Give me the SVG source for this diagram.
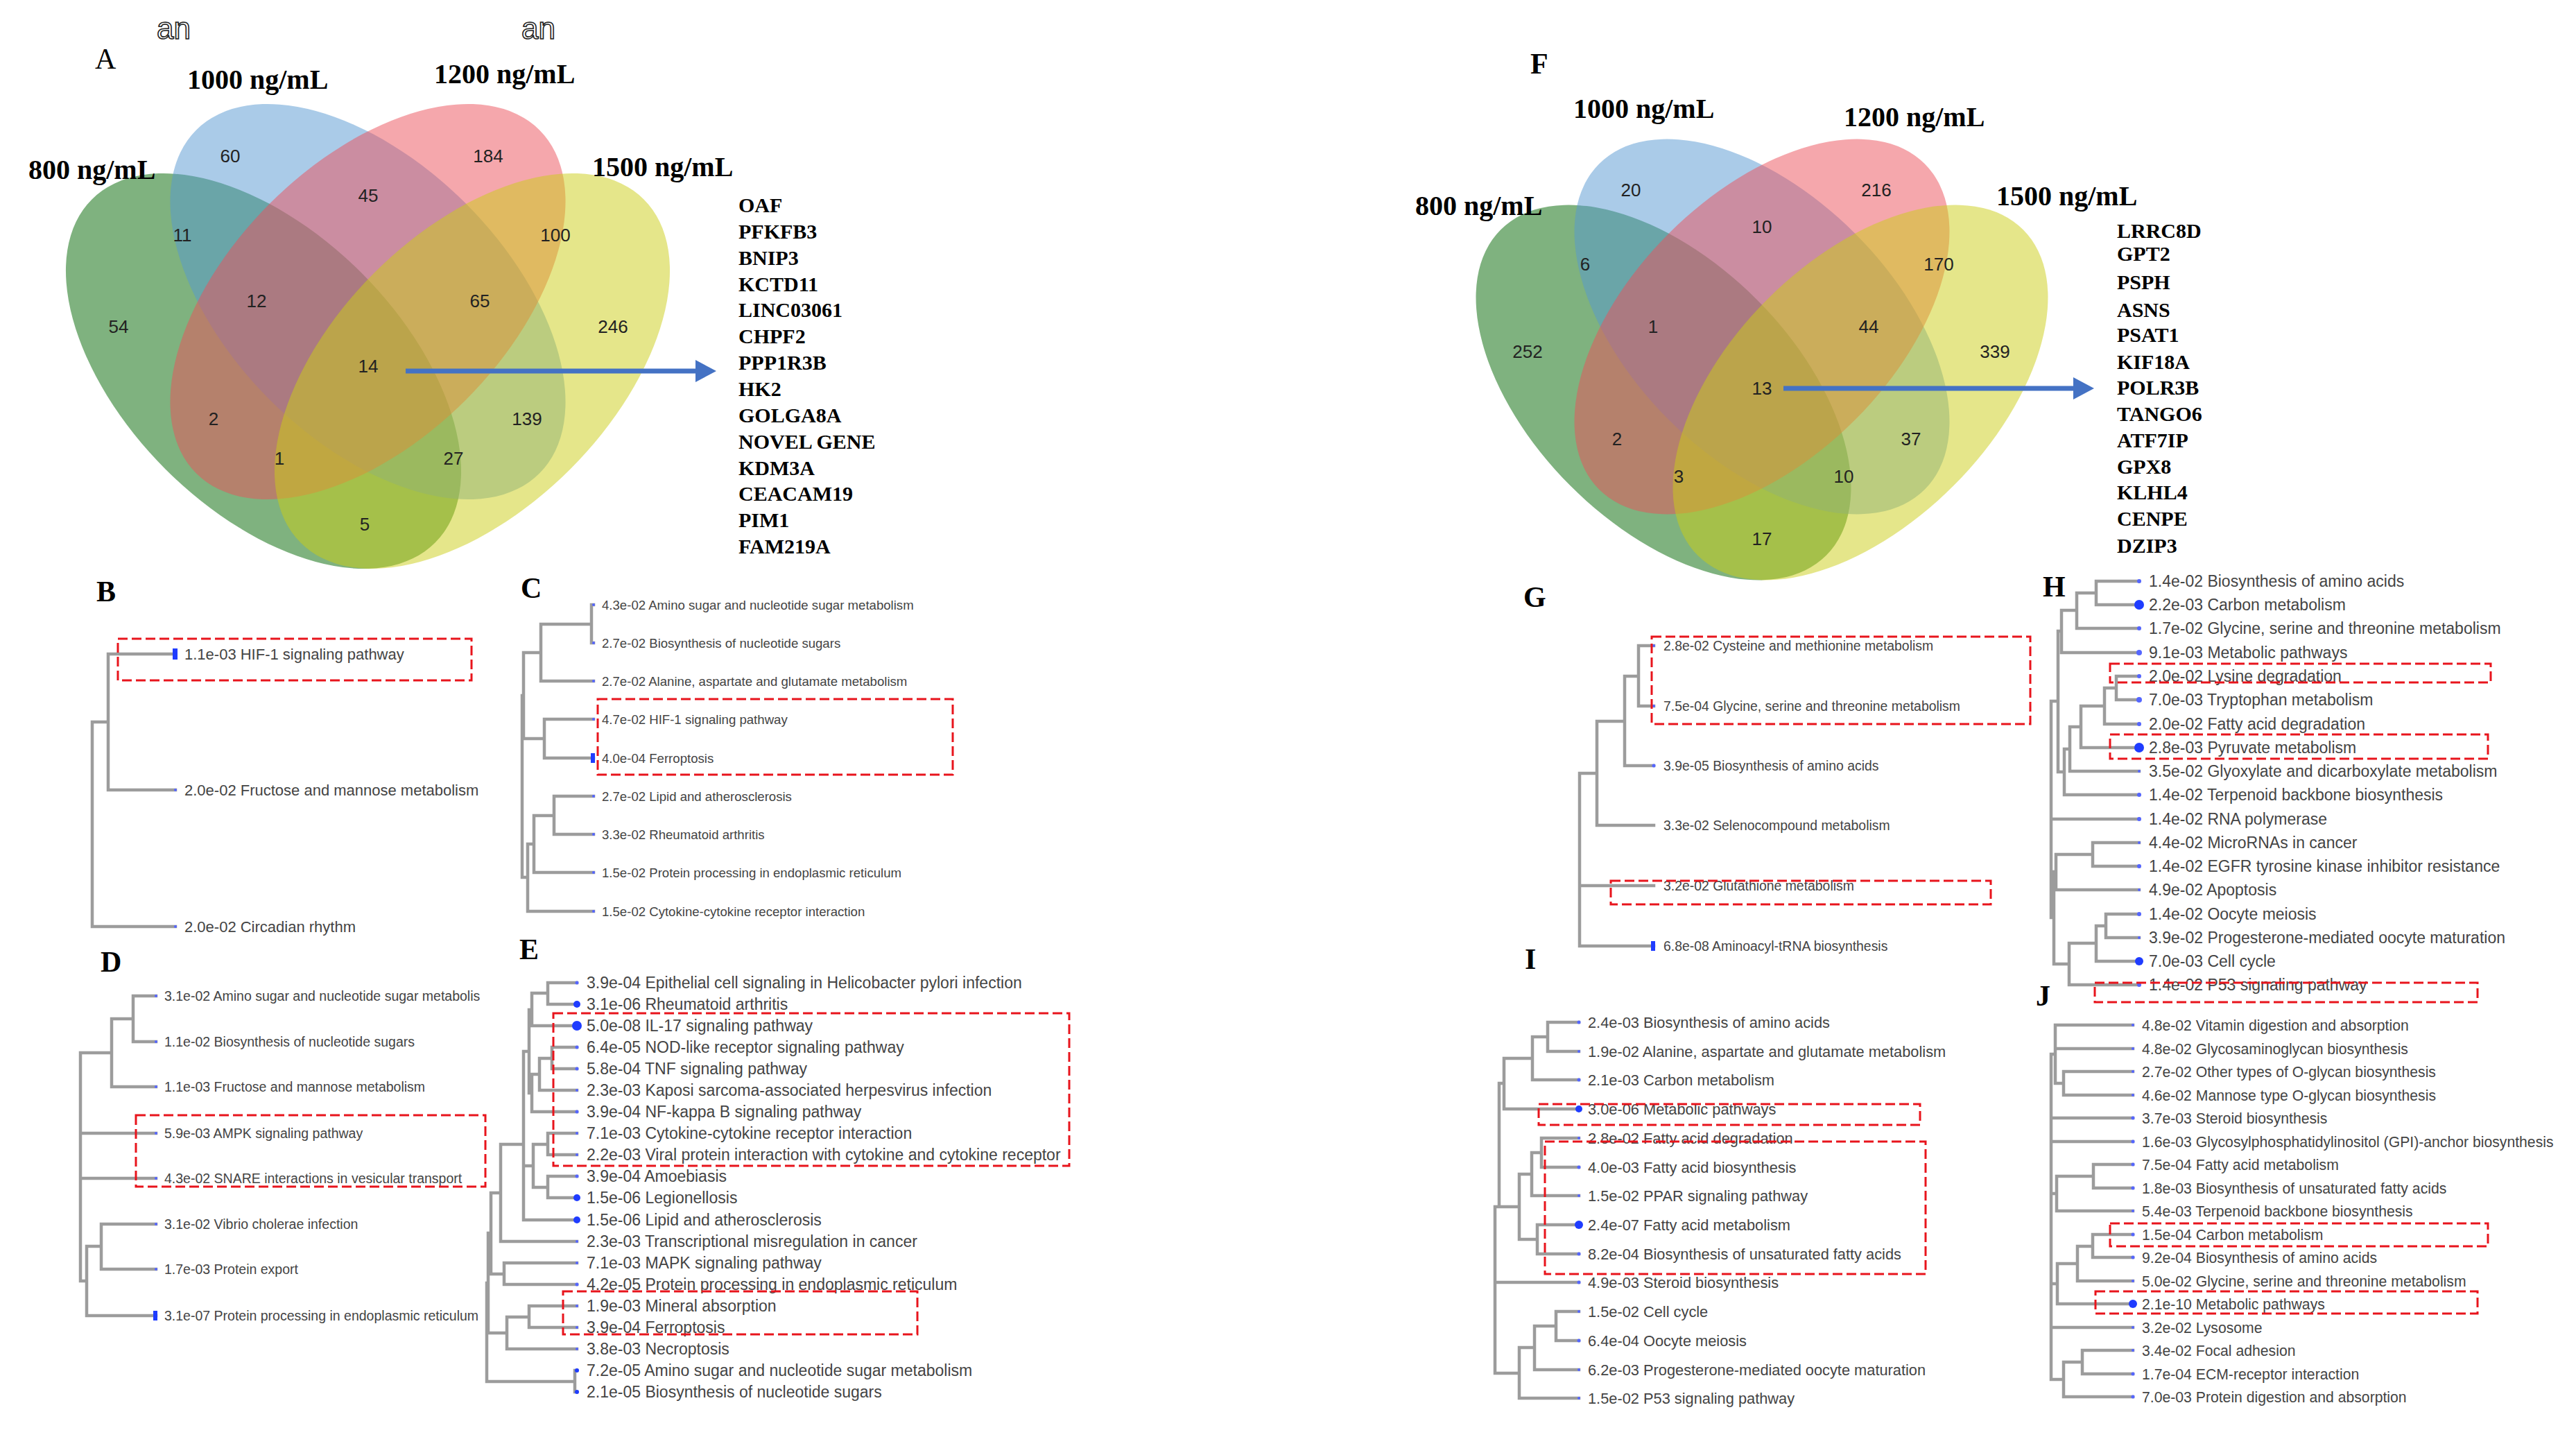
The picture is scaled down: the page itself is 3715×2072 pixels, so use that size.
<svg xmlns="http://www.w3.org/2000/svg" width="3715" height="2072" viewBox="0 0 3715 2072">
<style>
.vl{font-family:"Liberation Serif",serif;font-weight:bold;font-size:40px;fill:#000}
.num{font-family:"Liberation Sans",Arial,sans-serif;font-size:26px;fill:#222;text-anchor:middle}
.gene{font-family:"Liberation Serif",serif;font-weight:bold;font-size:30px;fill:#000}
.pl{font-family:"Liberation Serif",serif;font-weight:bold;font-size:42px;fill:#000}
.tr{fill:none;stroke:#9c9c9c;stroke-width:4.5;stroke-linecap:square}
.t{font-family:"Liberation Sans",Arial,sans-serif;fill:#444}
.box{fill:none;stroke:#e8141c;stroke-width:3;stroke-dasharray:14 6}
.dot{fill:#1f3cff}
.tick{fill:#5566ff}
.g{fill:#006500;fill-opacity:.5}
.b{fill:#5597d1;fill-opacity:.5}
.p{fill:#eb4f59;fill-opacity:.5}
.y{fill:#cbcd15;fill-opacity:.5}
.odd{font-family:"Liberation Sans",sans-serif;font-size:44px;fill:#fff;stroke:#222;stroke-width:1.6}
</style>
<rect width="3715" height="2072" fill="#fff"/>

<!-- Venn A -->
<g id="venn-A">
<text class="odd" x="226" y="56">an</text>
<text class="odd" x="752" y="56">an</text>
<text x="137" y="99" style="font-family:'Liberation Serif',serif;font-size:42px">A</text>
<g id="A-800"><ellipse class="g" cx="380" cy="535" rx="350" ry="200" transform="rotate(45 380 535)"/></g>
<g id="A-1000"><ellipse class="b" cx="530.5" cy="435" rx="350" ry="200" transform="rotate(45 530.5 435)"/></g>
<g id="A-1200"><ellipse class="p" cx="530.5" cy="435" rx="350" ry="200" transform="rotate(-45 530.5 435)"/></g>
<g id="A-1500"><ellipse class="y" cx="681" cy="535" rx="350" ry="200" transform="rotate(-45 681 535)"/></g>
<text class="vl" x="270" y="128">1000 ng/mL</text>
<text class="vl" x="626" y="120">1200 ng/mL</text>
<text class="vl" x="41" y="258">800 ng/mL</text>
<text class="vl" x="854" y="254">1500 ng/mL</text>
<text class="num" x="332" y="234">60</text>
<text class="num" x="704" y="234">184</text>
<text class="num" x="531" y="291">45</text>
<text class="num" x="263" y="348">11</text>
<text class="num" x="801" y="348">100</text>
<text class="num" x="370" y="443">12</text>
<text class="num" x="692" y="443">65</text>
<text class="num" x="171" y="480">54</text>
<text class="num" x="884" y="480">246</text>
<text class="num" x="531" y="537">14</text>
<text class="num" x="308" y="613">2</text>
<text class="num" x="760" y="613">139</text>
<text class="num" x="403" y="670">1</text>
<text class="num" x="654" y="670">27</text>
<text class="num" x="526" y="765">5</text>
</g>
<g id="genes-A">
<text class="gene" x="1065" y="306">OAF</text>
<text class="gene" x="1065" y="344">PFKFB3</text>
<text class="gene" x="1065" y="382">BNIP3</text>
<text class="gene" x="1065" y="420">KCTD11</text>
<text class="gene" x="1065" y="457">LINC03061</text>
<text class="gene" x="1065" y="495">CHPF2</text>
<text class="gene" x="1065" y="533">PPP1R3B</text>
<text class="gene" x="1065" y="571">HK2</text>
<text class="gene" x="1065" y="609">GOLGA8A</text>
<text class="gene" x="1065" y="647">NOVEL GENE</text>
<text class="gene" x="1065" y="685">KDM3A</text>
<text class="gene" x="1065" y="722">CEACAM19</text>
<text class="gene" x="1065" y="760">PIM1</text>
<text class="gene" x="1065" y="798">FAM219A</text>
</g>

<!-- Venn F -->
<g id="venn-F">
<text class="pl" x="2207" y="106">F</text>
<g id="F-800"><ellipse class="g" cx="2399" cy="566" rx="332" ry="190" transform="rotate(45 2399 566)"/></g>
<g id="F-1000"><ellipse class="b" cx="2541" cy="471" rx="332" ry="190" transform="rotate(45 2541 471)"/></g>
<g id="F-1200"><ellipse class="p" cx="2541" cy="471" rx="332" ry="190" transform="rotate(-45 2541 471)"/></g>
<g id="F-1500"><ellipse class="y" cx="2683" cy="566" rx="332" ry="190" transform="rotate(-45 2683 566)"/></g>
<text class="vl" x="2269" y="170">1000 ng/mL</text>
<text class="vl" x="2659" y="182">1200 ng/mL</text>
<text class="vl" x="2041" y="310">800 ng/mL</text>
<text class="vl" x="2879" y="296">1500 ng/mL</text>
<text class="num" x="2352" y="283">20</text>
<text class="num" x="2706" y="283">216</text>
<text class="num" x="2541" y="336">10</text>
<text class="num" x="2286" y="390">6</text>
<text class="num" x="2796" y="390">170</text>
<text class="num" x="2384" y="480">1</text>
<text class="num" x="2695" y="480">44</text>
<text class="num" x="2203" y="516">252</text>
<text class="num" x="2877" y="516">339</text>
<text class="num" x="2541" y="569">13</text>
<text class="num" x="2332" y="642">2</text>
<text class="num" x="2756" y="642">37</text>
<text class="num" x="2421" y="696">3</text>
<text class="num" x="2659" y="696">10</text>
<text class="num" x="2541" y="786">17</text>
</g>
<g id="genes-F">
<text class="gene" x="3053" y="343">LRRC8D</text>
<text class="gene" x="3053" y="376">GPT2</text>
<text class="gene" x="3053" y="417">PSPH</text>
<text class="gene" x="3053" y="457">ASNS</text>
<text class="gene" x="3053" y="493">PSAT1</text>
<text class="gene" x="3053" y="532">KIF18A</text>
<text class="gene" x="3053" y="569">POLR3B</text>
<text class="gene" x="3053" y="607">TANGO6</text>
<text class="gene" x="3053" y="645">ATF7IP</text>
<text class="gene" x="3053" y="683">GPX8</text>
<text class="gene" x="3053" y="720">KLHL4</text>
<text class="gene" x="3053" y="758">CENPE</text>
<text class="gene" x="3053" y="797">DZIP3</text>
</g>

<g id="connectors">
<line x1="585" y1="535" x2="1006" y2="535" stroke="#4472c4" stroke-width="7"/>
<polygon points="1003,519 1033,535 1003,551" fill="#4472c4"/>
<line x1="2572" y1="560" x2="2993" y2="560" stroke="#4472c4" stroke-width="7"/>
<polygon points="2990,544 3020,560 2990,576" fill="#4472c4"/>
</g>

<!-- Panel B -->
<g id="panel-B">
<text class="pl" x="139" y="867">B</text>
<path class="tr" d="M156,943V1139M156,943H253M156,1139H253M133,1041V1336M133,1041H156M133,1336H253"/>
<rect class="dot" x="249" y="935" width="7" height="16"/>
<circle class="tick" cx="253" cy="1139" r="2"/><circle class="tick" cx="253" cy="1336" r="2"/>
<g class="t" font-size="22">
<text x="266" y="951">1.1e-03 HIF-1 signaling pathway</text>
<text x="266" y="1147">2.0e-02 Fructose and mannose metabolism</text>
<text x="266" y="1344">2.0e-02 Circadian rhythm</text>
</g>
<rect class="box" x="170" y="921" width="510" height="60"/>
</g>

<!-- Panel C -->
<g id="panel-C">
<text class="pl" x="751" y="862">C</text>
<path class="tr" d="M853,872V927M853,872H856M853,927H856M780,900V982M780,900H853M780,982H856M785,1037V1093M785,1037H856M785,1093H856M755,941V1065M755,941H780M755,1065H785M799,1148V1203M799,1148H856M799,1203H856M770,1176V1258M770,1176H799M770,1258H856M761,1217V1314M761,1217H770M761,1314H856M753,1003V1265M753,1003H755M753,1265H761"/>
<g class="tick"><circle cx="856" cy="872" r="2"/><circle cx="856" cy="927" r="2"/><circle cx="856" cy="982" r="2"/><circle cx="856" cy="1037" r="2"/><circle cx="856" cy="1148" r="2"/><circle cx="856" cy="1203" r="2"/><circle cx="856" cy="1258" r="2"/><circle cx="856" cy="1314" r="2"/></g>
<rect class="dot" x="852" y="1086" width="6" height="14"/>
<g class="t" font-size="18.6">
<text x="868" y="878.5">4.3e-02 Amino sugar and nucleotide sugar metabolism</text>
<text x="868" y="933.5">2.7e-02 Biosynthesis of nucleotide sugars</text>
<text x="868" y="988.5">2.7e-02 Alanine, aspartate and glutamate metabolism</text>
<text x="868" y="1043.5">4.7e-02 HIF-1 signaling pathway</text>
<text x="868" y="1099.5">4.0e-04 Ferroptosis</text>
<text x="868" y="1154.5">2.7e-02 Lipid and atherosclerosis</text>
<text x="868" y="1209.5">3.3e-02 Rheumatoid arthritis</text>
<text x="868" y="1264.5">1.5e-02 Protein processing in endoplasmic reticulum</text>
<text x="868" y="1320.5">1.5e-02 Cytokine-cytokine receptor interaction</text>
</g>
<rect class="box" x="862" y="1008" width="512" height="109"/>
</g>

<!-- Panel D -->
<g id="panel-D">
<text class="pl" x="145" y="1401">D</text>
<path class="tr" d="M192,1436V1502M192,1436H225M192,1502H225M161,1469V1567M161,1469H192M161,1567H225M146,1765V1830M146,1765H225M146,1830H225M125,1797V1897M125,1797H146M125,1897H225M116,1518V1847M116,1518H161M116,1634H225M116,1699H225M116,1847H125"/>
<g class="tick"><circle cx="225" cy="1436" r="2"/><circle cx="225" cy="1502" r="2"/><circle cx="225" cy="1567" r="2"/><circle cx="225" cy="1634" r="2"/><circle cx="225" cy="1699" r="2"/><circle cx="225" cy="1765" r="2"/><circle cx="225" cy="1830" r="2"/></g>
<rect class="dot" x="221" y="1890" width="6" height="14"/>
<g class="t" font-size="19.5">
<text x="237" y="1443">3.1e-02 Amino sugar and nucleotide sugar metabolis</text>
<text x="237" y="1509">1.1e-02 Biosynthesis of nucleotide sugars</text>
<text x="237" y="1574">1.1e-03 Fructose and mannose metabolism</text>
<text x="237" y="1641">5.9e-03 AMPK signaling pathway</text>
<text x="237" y="1706">4.3e-02 SNARE interactions in vesicular transport</text>
<text x="237" y="1772">3.1e-02 Vibrio cholerae infection</text>
<text x="237" y="1837">1.7e-03 Protein export</text>
<text x="237" y="1904">3.1e-07 Protein processing in endoplasmic reticulum</text>
</g>
<rect class="box" x="196" y="1608" width="504" height="103"/>
</g>

<!-- Panel E -->
<g id="panel-E">
<text class="pl" x="749" y="1383">E</text>
<path class="tr" d="M790,1417V1448M790,1417H832M790,1448H832M767,1432V1479M767,1432H790M767,1479H832M796,1510V1541M796,1510H832M796,1541H832M778,1526V1572M778,1526H796M778,1572H832M767,1549V1603M767,1549H778M767,1603H832M763,1456V1576M763,1456H767M763,1576H767M790,1634V1665M790,1634H832M790,1665H832M790,1696V1727M790,1696H832M790,1727H832M769,1650V1712M769,1650H790M769,1712H790M755,1516V1759M755,1516H763M755,1681H769M755,1759H832M722,1650V1790M722,1650H755M722,1790H832M727,1821V1852M727,1821H832M727,1852H832M708,1720V1837M708,1720H722M708,1837H727M763,1883V1914M763,1883H832M763,1914H832M731,1899V1945M731,1899H763M731,1945H832M704,1778V1922M704,1778H708M704,1922H731M829,1976V2007M829,1976H832M829,2007H832M702,1850V1992M702,1850H704M702,1992H829"/>
<g class="tick"><circle cx="832" cy="1417" r="2.5"/><circle cx="832" cy="1510" r="2.5"/><circle cx="832" cy="1541" r="2.5"/><circle cx="832" cy="1572" r="2"/><circle cx="832" cy="1603" r="2.5"/><circle cx="832" cy="1634" r="2"/><circle cx="832" cy="1665" r="2"/><circle cx="832" cy="1696" r="2.5"/><circle cx="832" cy="1790" r="2"/><circle cx="832" cy="1821" r="2"/><circle cx="832" cy="1852" r="2.5"/><circle cx="832" cy="1883" r="2"/><circle cx="832" cy="1914" r="2"/><circle cx="832" cy="1945" r="2"/></g>
<g class="dot"><circle cx="832" cy="1448" r="5"/><circle cx="832" cy="1479" r="7"/><circle cx="832" cy="1727" r="5"/><circle cx="832" cy="1759" r="5"/><circle cx="832" cy="1976" r="3"/><circle cx="832" cy="2007" r="3"/></g>
<g class="t" font-size="23">
<text x="846" y="1425">3.9e-04 Epithelial cell signaling in Helicobacter pylori infection</text>
<text x="846" y="1456">3.1e-06 Rheumatoid arthritis</text>
<text x="846" y="1487">5.0e-08 IL-17 signaling pathway</text>
<text x="846" y="1518">6.4e-05 NOD-like receptor signaling pathway</text>
<text x="846" y="1549">5.8e-04 TNF signaling pathway</text>
<text x="846" y="1580">2.3e-03 Kaposi sarcoma-associated herpesvirus infection</text>
<text x="846" y="1611">3.9e-04 NF-kappa B signaling pathway</text>
<text x="846" y="1642">7.1e-03 Cytokine-cytokine receptor interaction</text>
<text x="846" y="1673">2.2e-03 Viral protein interaction with cytokine and cytokine receptor</text>
<text x="846" y="1704">3.9e-04 Amoebiasis</text>
<text x="846" y="1735">1.5e-06 Legionellosis</text>
<text x="846" y="1767">1.5e-06 Lipid and atherosclerosis</text>
<text x="846" y="1798">2.3e-03 Transcriptional misregulation in cancer</text>
<text x="846" y="1829">7.1e-03 MAPK signaling pathway</text>
<text x="846" y="1860">4.2e-05 Protein processing in endoplasmic reticulum</text>
<text x="846" y="1891">1.9e-03 Mineral absorption</text>
<text x="846" y="1922">3.9e-04 Ferroptosis</text>
<text x="846" y="1953">3.8e-03 Necroptosis</text>
<text x="846" y="1984">7.2e-05 Amino sugar and nucleotide sugar metabolism</text>
<text x="846" y="2015">2.1e-05 Biosynthesis of nucleotide sugars</text>
</g>
<rect class="box" x="798" y="1461" width="744" height="220"/>
<rect class="box" x="812" y="1862" width="511" height="62"/>
</g>

<!-- Panel G -->
<g id="panel-G">
<text class="pl" x="2197" y="875">G</text>
<path class="tr" d="M2363,931V1018M2363,931H2385M2363,1018H2385M2343,975V1104M2343,975H2363M2343,1104H2385M2303,1040V1190M2303,1040H2343M2303,1190H2385M2278,1115V1364M2278,1115H2303M2278,1277H2385M2278,1364H2385"/>
<g class="tick"><circle cx="2385" cy="931" r="2"/><circle cx="2385" cy="1018" r="2"/><circle cx="2385" cy="1104" r="2.5"/></g>
<rect class="dot" x="2381" y="1357" width="6" height="14"/>
<g class="t" font-size="19.4">
<text x="2399" y="938">2.8e-02 Cysteine and methionine metabolism</text>
<text x="2399" y="1025">7.5e-04 Glycine, serine and threonine metabolism</text>
<text x="2399" y="1111">3.9e-05 Biosynthesis of amino acids</text>
<text x="2399" y="1197">3.3e-02 Selenocompound metabolism</text>
<text x="2399" y="1284">3.2e-02 Glutathione metabolism</text>
<text x="2399" y="1371">6.8e-08 Aminoacyl-tRNA biosynthesis</text>
</g>
<rect class="box" x="2382" y="918" width="546" height="126"/>
<rect class="box" x="2323" y="1270" width="548" height="34"/>
</g>

<!-- Panel H -->
<g id="panel-H">
<text class="pl" x="2946" y="860">H</text>
<path class="tr" d="M3023,838V872M3023,838H3085M3023,872H3085M2995,855V906M2995,855H3023M2995,906H3085M2973,880V941M2973,880H2995M2973,941H3085M3052,975V1009M3052,975H3085M3052,1009H3085M3035,992V1044M3035,992H3052M3035,1044H3085M3001,1018V1078M3001,1018H3035M3001,1078H3085M2985,1048V1112M2985,1048H3001M2985,1112H3085M2977,1080V1146M2977,1080H2985M2977,1146H3085M2968,910V1113M2968,910H2973M2968,1113H2977M3018,1215V1249M3018,1215H3085M3018,1249H3085M2965,1232V1283M2965,1232H3018M2965,1283H3085M3037,1318V1352M3037,1318H3085M3037,1352H3085M3023,1335V1386M3023,1335H3037M3023,1386H3085M2984,1360V1420M2984,1360H3023M2984,1420H3085M2962,1257V1390M2962,1257H2965M2962,1390H2984M2958,1011V1323M2958,1011H2968M2958,1181H3085M2958,1323H2962"/>
<g class="tick"><circle cx="3085" cy="838" r="3"/><circle cx="3085" cy="906" r="3"/><circle cx="3085" cy="941" r="4"/><circle cx="3085" cy="975" r="3"/><circle cx="3085" cy="1009" r="4"/><circle cx="3085" cy="1044" r="3"/><circle cx="3085" cy="1112" r="2"/><circle cx="3085" cy="1146" r="3"/><circle cx="3085" cy="1181" r="3"/><circle cx="3085" cy="1215" r="2"/><circle cx="3085" cy="1249" r="3"/><circle cx="3085" cy="1283" r="2"/><circle cx="3085" cy="1318" r="3"/><circle cx="3085" cy="1352" r="2"/><circle cx="3085" cy="1420" r="3"/></g>
<g class="dot"><circle cx="3085" cy="872" r="7"/><circle cx="3085" cy="1078" r="7"/><circle cx="3085" cy="1386" r="6"/></g>
<g class="t" font-size="23">
<text x="3099" y="846">1.4e-02 Biosynthesis of amino acids</text>
<text x="3099" y="880">2.2e-03 Carbon metabolism</text>
<text x="3099" y="914">1.7e-02 Glycine, serine and threonine metabolism</text>
<text x="3099" y="949">9.1e-03 Metabolic pathways</text>
<text x="3099" y="983">2.0e-02 Lysine degradation</text>
<text x="3099" y="1017">7.0e-03 Tryptophan metabolism</text>
<text x="3099" y="1052">2.0e-02 Fatty acid degradation</text>
<text x="3099" y="1086">2.8e-03 Pyruvate metabolism</text>
<text x="3099" y="1120">3.5e-02 Glyoxylate and dicarboxylate metabolism</text>
<text x="3099" y="1154">1.4e-02 Terpenoid backbone biosynthesis</text>
<text x="3099" y="1189">1.4e-02 RNA polymerase</text>
<text x="3099" y="1223">4.4e-02 MicroRNAs in cancer</text>
<text x="3099" y="1257">1.4e-02 EGFR tyrosine kinase inhibitor resistance</text>
<text x="3099" y="1291">4.9e-02 Apoptosis</text>
<text x="3099" y="1326">1.4e-02 Oocyte meiosis</text>
<text x="3099" y="1360">3.9e-02 Progesterone-mediated oocyte maturation</text>
<text x="3099" y="1394">7.0e-03 Cell cycle</text>
<text x="3099" y="1428">1.4e-02 P53 signaling pathway</text>
</g>
<rect class="box" x="3043" y="957" width="549" height="27"/>
<rect class="box" x="3043" y="1059" width="545" height="35"/>
<rect class="box" x="3021" y="1417" width="552" height="28"/>
</g>

<!-- Panel I -->
<g id="panel-I">
<text class="pl" x="2199" y="1397">I</text>
<path class="tr" d="M2232,1474V1516M2232,1474H2277M2232,1516H2277M2210,1495V1557M2210,1495H2232M2210,1557H2277M2169,1526V1599M2169,1526H2210M2169,1599H2277M2223,1641V1683M2223,1641H2277M2223,1683H2277M2209,1662V1724M2209,1662H2223M2209,1724H2277M2217,1766V1808M2217,1766H2277M2217,1808H2277M2191,1693V1787M2191,1693H2209M2191,1787H2217M2162,1562V1740M2162,1562H2169M2156,1740V1980M2156,1740H2191M2156,1849H2277M2156,1980H2191M2244,1891V1933M2244,1891H2277M2244,1933H2277M2213,1912V1975M2213,1912H2244M2213,1975H2277M2191,1943V2016M2191,1943H2213M2191,2016H2277"/>
<g class="tick"><circle cx="2277" cy="1474" r="2.5"/><circle cx="2277" cy="1516" r="2"/><circle cx="2277" cy="1557" r="2.5"/><circle cx="2277" cy="1641" r="2"/><circle cx="2277" cy="1683" r="2.5"/><circle cx="2277" cy="1724" r="2"/><circle cx="2277" cy="1808" r="2.5"/><circle cx="2277" cy="1849" r="2.5"/><circle cx="2277" cy="1891" r="2"/><circle cx="2277" cy="1933" r="2.5"/><circle cx="2277" cy="1975" r="2"/><circle cx="2277" cy="2016" r="2"/></g>
<g class="dot"><circle cx="2277" cy="1599" r="5"/><circle cx="2277" cy="1766" r="6"/></g>
<g class="t" font-size="21.8">
<text x="2290" y="1481.5">2.4e-03 Biosynthesis of amino acids</text>
<text x="2290" y="1523.5">1.9e-02 Alanine, aspartate and glutamate metabolism</text>
<text x="2290" y="1564.5">2.1e-03 Carbon metabolism</text>
<text x="2290" y="1606.5">3.0e-06 Metabolic pathways</text>
<text x="2290" y="1648.5">2.8e-02 Fatty acid degradation</text>
<text x="2290" y="1690.5">4.0e-03 Fatty acid biosynthesis</text>
<text x="2290" y="1731.5">1.5e-02 PPAR signaling pathway</text>
<text x="2290" y="1773.5">2.4e-07 Fatty acid metabolism</text>
<text x="2290" y="1815.5">8.2e-04 Biosynthesis of unsaturated fatty acids</text>
<text x="2290" y="1856.5">4.9e-03 Steroid biosynthesis</text>
<text x="2290" y="1898.5">1.5e-02 Cell cycle</text>
<text x="2290" y="1940.5">6.4e-04 Oocyte meiosis</text>
<text x="2290" y="1982.5">6.2e-03 Progesterone-mediated oocyte maturation</text>
<text x="2290" y="2023.5">1.5e-02 P53 signaling pathway</text>
</g>
<rect class="box" x="2219" y="1592" width="550" height="30"/>
<rect class="box" x="2228" y="1646" width="549" height="191"/>
</g>

<!-- Panel J -->
<g id="panel-J">
<text class="pl" x="2936" y="1450">J</text>
<path class="tr" d="M2976,1545V1579M2976,1545H3076M2976,1579H3076M2964,1478V1562M2964,1478H3076M2964,1512H3076M2964,1562H2976M3019,1679V1713M3019,1679H3076M3019,1713H3076M2966,1696V1746M2966,1696H3019M2966,1746H3076M3018,1780V1813M3018,1780H3076M3018,1813H3076M2996,1797V1847M2996,1797H3018M2996,1847H3076M2967,1822V1880M2967,1822H2996M2967,1880H3076M3003,1947V1981M3003,1947H3076M3003,1981H3076M2976,1964V2014M2976,1964H3003M2976,2014H3076M2958,1520V1989M2958,1520H2964M2958,1612H3076M2958,1646H3076M2958,1721H2966M2958,1851H2967M2958,1914H3076M2958,1989H2976"/>
<g class="tick"><circle cx="3076" cy="1478" r="2"/><circle cx="3076" cy="1512" r="2"/><circle cx="3076" cy="1545" r="2"/><circle cx="3076" cy="1579" r="2"/><circle cx="3076" cy="1612" r="2.5"/><circle cx="3076" cy="1646" r="2.5"/><circle cx="3076" cy="1679" r="2.5"/><circle cx="3076" cy="1713" r="2.5"/><circle cx="3076" cy="1746" r="2"/><circle cx="3076" cy="1780" r="2.5"/><circle cx="3076" cy="1813" r="2.5"/><circle cx="3076" cy="1847" r="2"/><circle cx="3076" cy="1914" r="2"/><circle cx="3076" cy="1947" r="2"/><circle cx="3076" cy="1981" r="2.5"/><circle cx="3076" cy="2014" r="2.5"/></g>
<circle class="dot" cx="3076" cy="1880" r="6"/>
<g class="t" font-size="21.2">
<text x="3089" y="1485.5">4.8e-02 Vitamin digestion and absorption</text>
<text x="3089" y="1519.5">4.8e-02 Glycosaminoglycan biosynthesis</text>
<text x="3089" y="1552.5">2.7e-02 Other types of O-glycan biosynthesis</text>
<text x="3089" y="1586.5">4.6e-02 Mannose type O-glycan biosynthesis</text>
<text x="3089" y="1619.5">3.7e-03 Steroid biosynthesis</text>
<text x="3089" y="1653.5">1.6e-03 Glycosylphosphatidylinositol (GPI)-anchor biosynthesis</text>
<text x="3089" y="1686.5">7.5e-04 Fatty acid metabolism</text>
<text x="3089" y="1720.5">1.8e-03 Biosynthesis of unsaturated fatty acids</text>
<text x="3089" y="1753.5">5.4e-03 Terpenoid backbone biosynthesis</text>
<text x="3089" y="1787.5">1.5e-04 Carbon metabolism</text>
<text x="3089" y="1820.5">9.2e-04 Biosynthesis of amino acids</text>
<text x="3089" y="1854.5">5.0e-02 Glycine, serine and threonine metabolism</text>
<text x="3089" y="1887.5">2.1e-10 Metabolic pathways</text>
<text x="3089" y="1921.5">3.2e-02 Lysosome</text>
<text x="3089" y="1954.5">3.4e-02 Focal adhesion</text>
<text x="3089" y="1988.5">1.7e-04 ECM-receptor interaction</text>
<text x="3089" y="2021.5">7.0e-03 Protein digestion and absorption</text>
</g>
<rect class="box" x="3043" y="1764" width="545" height="33"/>
<rect class="box" x="3022" y="1862" width="551" height="32"/>
</g>
</svg>
